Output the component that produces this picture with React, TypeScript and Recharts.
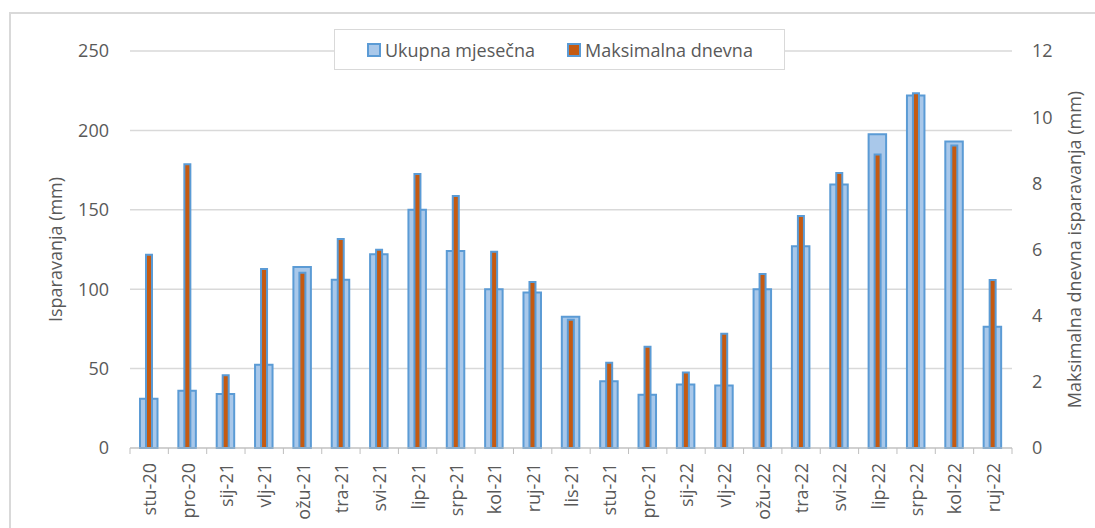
import { BarChart, Bar, XAxis, YAxis, CartesianGrid } from 'recharts'

const months = [
  'stu-20', 'pro-20', 'sij-21', 'vlj-21', 'ožu-21', 'tra-21', 'svi-21', 'lip-21',
  'srp-21', 'kol-21', 'ruj-21', 'lis-21', 'stu-21', 'pro-21', 'sij-22', 'vlj-22',
  'ožu-22', 'tra-22', 'svi-22', 'lip-22', 'srp-22', 'kol-22', 'ruj-22',
]
// monthly total evaporation (mm), left axis
const ukupna = [
  31, 36, 34, 52.5, 114, 106, 122, 150, 124, 100, 98, 82.6, 42, 33.6, 40, 39.3,
  100, 127, 166, 197.6, 222, 193, 76.4,
]
// max daily evaporation (mm), right axis
const maksimalna = [
  5.84, 8.58, 2.2, 5.41, 5.3, 6.32, 5.99, 8.28, 7.62, 5.93, 5.02, 3.88, 2.58, 3.06,
  2.28, 3.45, 5.26, 7.01, 8.31, 8.87, 10.72, 9.14, 5.08,
]
const leftTicks = [0, 50, 100, 150, 200, 250]
const rightTicks = [0, 2, 4, 6, 8, 10, 12]

const FONT = '"Open Sans", sans-serif'
const TEXT = '#595959'
const GRID = '#D9D9D9'
const BLUE = '#5B9BD5'
const LIGHT = '#A9C8EA'
const ORANGE = '#C55A11'

const W = 1095
const H = 528
const PLOT_LEFT = 130
const PLOT_RIGHT = 1012
const BAND = (PLOT_RIGHT - PLOT_LEFT) / months.length

const data = months.map((m, i) => ({ m, ukupna: ukupna[i], maks: maksimalna[i] }))

function MonthTick(props: any) {
  const { x, y, payload, index } = props
  return (
    <g>
      <line x1={x - BAND / 2} x2={x - BAND / 2} y1={y} y2={y + 6} stroke="#BFBFBF" />
      {index === months.length - 1 && (
        <line x1={x + BAND / 2} x2={x + BAND / 2} y1={y} y2={y + 6} stroke="#BFBFBF" />
      )}
      <text
        x={x}
        y={y + 15}
        transform={`rotate(-90 ${x} ${y + 15})`}
        textAnchor="end"
        dominantBaseline="central"
        fill={TEXT}
        fontSize={18}
        fontFamily={FONT}
      >
        {payload.value}
      </text>
    </g>
  )
}

function LegendBox() {
  const item = (color: string, label: string, gap: number) => (
    <span style={{ display: 'flex', alignItems: 'center', marginRight: gap, whiteSpace: 'nowrap', flexShrink: 0 }}>
      <span
        style={{
          width: 10,
          height: 10,
          background: color,
          border: `2px solid ${BLUE}`,
          marginRight: 4,
          display: 'inline-block',
        }}
      />
      {label}
    </span>
  )
  return (
    <div
      style={{
        position: 'absolute',
        left: 334,
        top: 29,
        width: 451,
        height: 41,
        border: `1px solid ${GRID}`,
        background: '#fff',
        display: 'flex',
        alignItems: 'center',
        paddingLeft: 32,
        boxSizing: 'border-box',
        fontFamily: FONT,
        fontSize: 18,
        color: TEXT,
      }}
    >
      {item(LIGHT, 'Ukupna mjesečna', 32)}
      {item(ORANGE, 'Maksimalna dnevna', 0)}
    </div>
  )
}

export default function App() {
  return (
    <div style={{ position: 'absolute', left: 0, top: 0, width: W, height: H, background: '#fff', overflow: 'hidden' }}>
      <div
        style={{
          position: 'absolute',
          left: 9,
          top: 12,
          width: W,
          height: H,
          border: `2px solid ${GRID}`,
        }}
      />
      <BarChart
        width={W}
        height={H}
        data={data}
        margin={{ top: 51, right: 0, bottom: 0, left: 0 }}
        style={{ position: 'absolute', left: 0, top: 0 }}
      >
        <CartesianGrid xAxisId="a" yAxisId="left" vertical={false} stroke={GRID} strokeWidth={1.5} />
        <XAxis
          xAxisId="a"
          dataKey="m"
          height={80}
          interval={0}
          tickLine={false}
          tickSize={0}
          tickMargin={0}
          axisLine={{ stroke: '#BFBFBF' }}
          tick={<MonthTick />}
        />
        <XAxis xAxisId="b" dataKey="m" hide />
        <YAxis
          yAxisId="left"
          width={PLOT_LEFT}
          domain={[0, 250]}
          ticks={leftTicks}
          axisLine={false}
          tickLine={false}
          tickSize={0}
          tickMargin={21}
          tick={{ fill: TEXT, fontSize: 18, fontFamily: FONT }}
          label={{
            value: 'Isparavanja (mm)',
            angle: -90,
            position: 'insideLeft',
            offset: 0,
            dx: 56,
            fill: TEXT,
            fontSize: 18,
            fontFamily: FONT,
            style: { textAnchor: 'middle' },
          }}
        />
        <YAxis
          yAxisId="right"
          orientation="right"
          width={W - PLOT_RIGHT}
          domain={[0, 12]}
          ticks={rightTicks}
          axisLine={false}
          tickLine={false}
          tickSize={0}
          tickMargin={20}
          tick={{ fill: TEXT, fontSize: 18, fontFamily: FONT }}
          label={{
            value: 'Maksimalna dnevna isparavanja (mm)',
            angle: -90,
            position: 'insideRight',
            offset: 0,
            dx: -20,
            fill: TEXT,
            fontSize: 18,
            fontFamily: FONT,
            style: { textAnchor: 'middle' },
          }}
        />
        <Bar
          name="Ukupna mjesečna"
          dataKey="ukupna"
          xAxisId="a"
          yAxisId="left"
          barSize={17.5}
          fill={LIGHT}
          stroke={BLUE}
          strokeWidth={2}
          isAnimationActive={false}
        />
        <Bar
          name="Maksimalna dnevna"
          dataKey="maks"
          xAxisId="b"
          yAxisId="right"
          barSize={6}
          fill={ORANGE}
          stroke={BLUE}
          strokeWidth={2}
          isAnimationActive={false}
        />
      </BarChart>
      <LegendBox />
    </div>
  )
}
